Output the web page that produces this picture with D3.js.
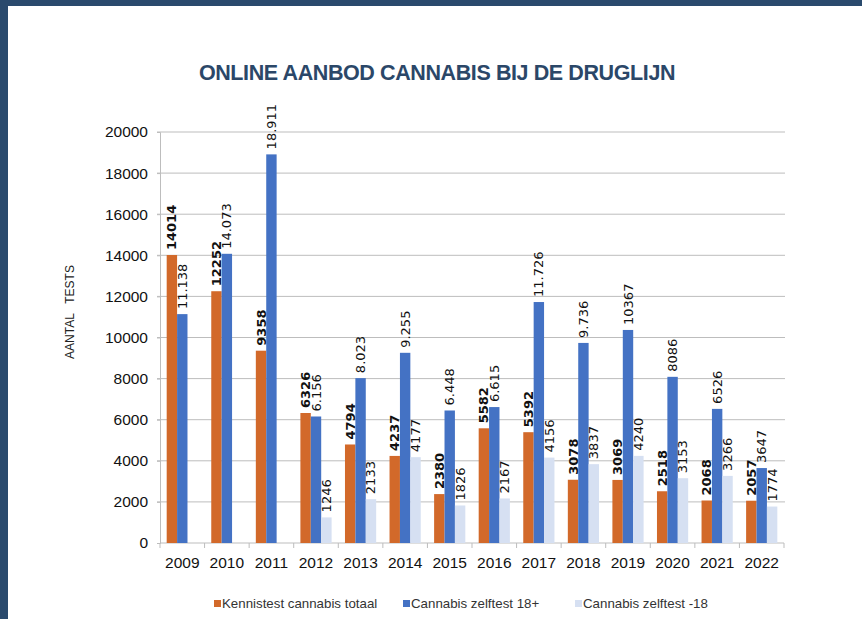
<!DOCTYPE html>
<html>
<head>
<meta charset="utf-8">
<script src="https://cdn.jsdelivr.net/npm/d3@7"></script>
<style>
  body { margin: 0; background: #fff; }
  svg { display: block; font-family: Arial, "Liberation Sans", sans-serif; }
</style>
</head>
<body>
<svg id="chart" width="862" height="619"></svg>
<script>
'use strict';

var years = ['2009', '2010', '2011', '2012', '2013', '2014', '2015', '2016', '2017', '2018', '2019', '2020', '2021', '2022'];
var seriesNames = ['Kennistest cannabis totaal', 'Cannabis zelftest 18+', 'Cannabis zelftest -18'];
var kennistest = [14014, 12252, 9358, 6326, 4794, 4237, 2380, 5582, 5392, 3078, 3069, 2518, 2068, 2057];
var zelftest18plus = [11138, 14073, 18911, 6156, 8023, 9255, 6448, 6615, 11726, 9736, 10367, 8086, 6526, 3647];
var zelftest18plusLabels = ['11.138', '14.073', '18.911', '6.156', '8.023', '9.255', '6.448', '6.615', '11.726', '9.736', '10367', '8086', '6526', '3647'];
var zelftestMin18 = [null, null, null, 1246, 2133, 4177, 1826, 2167, 4156, 3837, 4240, 3153, 3266, 1774];
var yTicks = [0, 2000, 4000, 6000, 8000, 10000, 12000, 14000, 16000, 18000, 20000];
var colors = ['#D2692A', '#4472C4', '#D6E0F2'];

var svg = d3.select('#chart');

// frame
svg.append('rect').attr('x', 0).attr('y', 0).attr('width', 862).attr('height', 6).attr('fill', '#2A4A6D');
svg.append('rect').attr('x', 0).attr('y', 0).attr('width', 8).attr('height', 619).attr('fill', '#2A4A6D');

var plotLeft = 160, plotRight = 784, plotTop = 132, plotBottom = 543;

var x0 = d3.scaleBand().domain(years).range([plotLeft, plotRight]).paddingInner(0.3).paddingOuter(0.15);
var x1 = d3.scaleBand().domain([0, 1, 2]).range([0, x0.bandwidth()]);
var y = d3.scaleLinear().domain([0, 20000]).range([plotBottom, plotTop]);

// title
svg.append('text')
  .attr('x', 437).attr('y', 80)
  .attr('text-anchor', 'middle')
  .attr('font-size', 21.5).attr('font-weight', 'bold')
  .attr('fill', '#2B4768')
  .attr('letter-spacing', -0.4)
  .text('ONLINE AANBOD CANNABIS BIJ DE DRUGLIJN');

// gridlines
svg.append('g').selectAll('line').data(yTicks.slice(1)).enter().append('line')
  .attr('x1', plotLeft - 3).attr('x2', plotRight + 1)
  .attr('y1', function (d) { return y(d); })
  .attr('y2', function (d) { return y(d); })
  .attr('stroke', '#BDBDBD').attr('stroke-width', 1);

// y axis
var yAxis = d3.axisLeft(y).tickValues(yTicks).tickSize(3).tickPadding(9).tickFormat(d3.format('d'));
var gy = svg.append('g').attr('transform', 'translate(' + plotLeft + ',0)').call(yAxis);
gy.select('.domain').attr('stroke', '#BDBDBD');
gy.selectAll('.tick line').attr('stroke', '#BDBDBD');
gy.selectAll('text').attr('font-size', 15.5).attr('fill', '#111').attr('font-family', 'Arial, "Liberation Sans", sans-serif');

// x axis
var step = x0.step();
var gx = svg.append('g');
gx.append('line').attr('x1', plotLeft).attr('x2', plotRight).attr('y1', plotBottom).attr('y2', plotBottom).attr('stroke', '#BDBDBD');
gx.selectAll('line.tk').data(d3.range(years.length + 1)).enter().append('line')
  .attr('class', 'tk')
  .attr('x1', function (i) { return plotLeft + i * step; })
  .attr('x2', function (i) { return plotLeft + i * step; })
  .attr('y1', plotBottom).attr('y2', plotBottom + 5)
  .attr('stroke', '#BDBDBD');
gx.selectAll('text').data(years).enter().append('text')
  .attr('x', function (d) { return x0(d) + x0.bandwidth() / 2; })
  .attr('y', plotBottom + 25)
  .attr('text-anchor', 'middle')
  .attr('font-size', 15.5).attr('fill', '#111')
  .text(function (d) { return d; });

// y label
svg.append('text')
  .attr('transform', 'translate(74,312) rotate(-90)')
  .attr('text-anchor', 'middle')
  .attr('font-size', 12).attr('fill', '#222')
  .style('white-space', 'pre')
  .text('AANTAL   TESTS');

// bars
var rows = years.map(function (yr, i) {
  return {
    year: yr,
    vals: [
      { s: 0, v: kennistest[i], label: String(kennistest[i]) },
      { s: 1, v: zelftest18plus[i], label: zelftest18plusLabels[i] },
      { s: 2, v: zelftestMin18[i], label: zelftestMin18[i] == null ? '' : String(zelftestMin18[i]) }
    ].filter(function (d) { return d.v != null; })
  };
});

var groups = svg.append('g').selectAll('g').data(rows).enter().append('g')
  .attr('transform', function (d) { return 'translate(' + x0(d.year) + ',0)'; });

groups.selectAll('rect').data(function (d) { return d.vals; }).enter().append('rect')
  .attr('x', function (d) { return x1(d.s); })
  .attr('width', x1.bandwidth())
  .attr('y', function (d) { return y(d.v); })
  .attr('height', function (d) { return y(0) - y(d.v); })
  .attr('fill', function (d) { return colors[d.s]; });

groups.selectAll('text').data(function (d) { return d.vals; }).enter().append('text')
  .attr('transform', function (d) {
    return 'translate(' + (x1(d.s) + x1.bandwidth() / 2) + ',' + (y(d.v) - 5) + ') rotate(-90)';
  })
  .attr('dominant-baseline', 'central')
  .attr('font-family', '"DejaVu Sans", Verdana, sans-serif')
  .attr('font-size', 13)
  .attr('font-weight', function (d) { return d.s === 0 ? 'bold' : 'normal'; })
  .attr('fill', '#111')
  .text(function (d) { return d.label; });

// legend
var legendX = [214, 403, 575];
var legend = svg.append('g').selectAll('g').data(seriesNames).enter().append('g')
  .attr('transform', function (d, i) { return 'translate(' + legendX[i] + ',604)'; });
legend.append('rect').attr('x', 0).attr('y', -4).attr('width', 7).attr('height', 7)
  .attr('fill', function (d, i) { return colors[i]; });
legend.append('text').attr('x', 8).attr('y', 0)
  .attr('dominant-baseline', 'middle')
  .attr('font-size', 13.3).attr('fill', '#333')
  .text(function (d) { return d; });
</script>
</body>
</html>
